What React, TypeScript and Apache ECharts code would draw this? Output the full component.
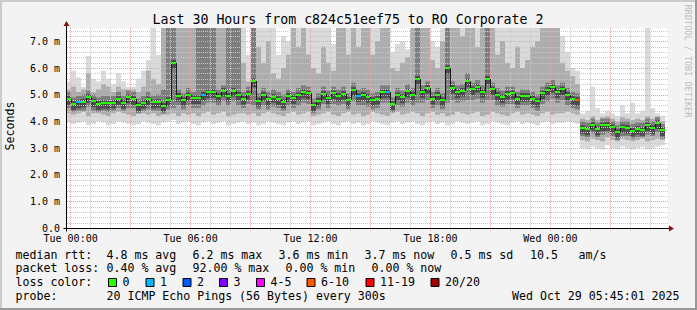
import React, { useEffect, useRef } from 'react';
import * as echarts from 'echarts';

const MONO = '"DejaVu Sans Mono", "Liberation Mono", monospace';

// 15-minute steps, hours relative to Tue 00:00
const STEP_START = -0.25;
const STEP_HOURS = 0.25;
const SEGMENT_STARTS = [0, 103];
// half-height of the darkest smoke core around the median (ms)
const CORE_BELOW = 0.22;
const CORE_ABOVE = 0.1;

const median = [
  4.84, 4.65, 4.71, 4.74, 4.92, 4.75, 4.65, 4.70, 4.68, 4.70,
  4.84, 4.70, 4.90, 4.84, 4.60, 4.70, 4.83, 4.71, 4.73, 4.58,
  4.80, 6.20, 4.96, 4.80, 4.98, 4.87, 4.87, 5.00, 5.09, 5.10,
  4.96, 5.15, 4.96, 5.15, 5.00, 4.85, 5.03, 5.50, 4.78, 5.00,
  4.82, 4.92, 4.84, 4.72, 4.96, 4.87, 4.98, 5.09, 5.05, 4.60,
  4.78, 5.03, 4.87, 5.05, 4.96, 5.03, 4.80, 5.18, 4.95, 5.00,
  4.92, 4.80, 4.85, 5.09, 5.10, 4.65, 4.98, 4.90, 5.12, 5.00,
  5.60, 5.10, 5.26, 4.85, 5.00, 4.80, 6.00, 5.26, 5.09, 5.15,
  5.50, 5.21, 5.30, 5.10, 5.60, 5.20, 5.00, 4.90, 5.03, 5.05,
  4.85, 4.96, 4.96, 4.85, 4.76, 5.05, 5.18, 5.30, 5.10, 5.20,
  5.00, 4.85, 4.80, 3.75, 3.70, 3.87, 3.70, 3.85, 3.87, 3.78,
  3.60, 3.78, 3.76, 3.65, 3.72, 3.68, 3.85, 3.75, 3.93, 3.67,
];

const smokeMin = [
  3.95, 3.90, 3.95, 4.00, 3.85, 3.90, 4.00, 3.95, 3.85, 3.90,
  4.00, 3.95, 3.90, 3.85, 3.90, 4.00, 3.95, 3.90, 3.85, 3.95,
  4.00, 4.05, 3.90, 3.95, 4.00, 3.90, 3.85, 3.95, 4.00, 3.90,
  3.95, 4.00, 3.85, 3.90, 3.95, 4.00, 3.90, 3.95, 3.85, 3.90,
  4.00, 3.95, 3.90, 3.85, 3.95, 4.00, 3.90, 3.95, 4.00, 3.85,
  3.90, 3.95, 4.00, 3.90, 3.85, 3.95, 4.00, 3.90, 3.95, 3.85,
  3.90, 4.00, 3.95, 3.90, 3.85, 3.95, 4.00, 3.90, 3.95, 4.00,
  3.90, 3.85, 3.95, 4.00, 3.90, 3.95, 3.85, 3.90, 4.00, 3.95,
  3.90, 3.95, 4.00, 3.85, 3.90, 4.00, 3.95, 3.90, 3.85, 3.95,
  4.00, 3.90, 3.95, 3.90, 3.85, 3.95, 4.00, 3.90, 3.95, 3.95,
  4.00, 3.95, 3.90, 3.00, 2.95, 3.05, 3.00, 2.95, 3.10, 3.00,
  2.95, 3.05, 3.00, 2.95, 3.00, 3.05, 2.95, 3.00, 3.05, 3.10,
];

const smokeQ1 = [
  4.30, 4.25, 4.30, 4.35, 4.20, 4.30, 4.30, 4.25, 4.20, 4.30,
  4.35, 4.30, 4.25, 4.20, 4.30, 4.30, 4.25, 4.30, 4.20, 4.25,
  4.25, 4.30, 4.20, 4.30, 4.25, 4.30, 4.20, 4.30, 4.35, 4.25,
  4.30, 4.35, 4.20, 4.25, 4.30, 4.30, 4.25, 4.30, 4.20, 4.30,
  4.35, 4.30, 4.25, 4.20, 4.30, 4.35, 4.25, 4.30, 4.35, 4.20,
  4.25, 4.30, 4.35, 4.25, 4.20, 4.30, 4.35, 4.25, 4.30, 4.20,
  4.25, 4.35, 4.30, 4.25, 4.20, 4.30, 4.35, 4.25, 4.30, 4.35,
  4.30, 4.20, 4.30, 4.35, 4.25, 4.30, 4.20, 4.25, 4.35, 4.30,
  4.25, 4.30, 4.35, 4.20, 4.25, 4.35, 4.30, 4.25, 4.20, 4.30,
  4.35, 4.25, 4.30, 4.25, 4.20, 4.30, 4.35, 4.25, 4.30, 4.30,
  4.35, 4.30, 4.25, 3.30, 3.25, 3.35, 3.30, 3.25, 3.40, 3.30,
  3.25, 3.35, 3.30, 3.25, 3.30, 3.35, 3.25, 3.30, 3.35, 3.30,
];

const darkLow = [
  4.50, 4.35, 4.40, 4.40, 4.55, 4.40, 4.35, 4.40, 4.35, 4.40,
  4.50, 4.40, 4.50, 4.50, 4.30, 4.40, 4.45, 4.40, 4.40, 4.30,
  4.45, 4.50, 4.60, 4.45, 4.60, 4.50, 4.50, 4.60, 4.70, 4.70,
  4.60, 4.75, 4.60, 4.75, 4.60, 4.50, 4.65, 4.60, 4.45, 4.60,
  4.45, 4.55, 4.50, 4.40, 4.60, 4.50, 4.60, 4.70, 4.65, 4.30,
  4.45, 4.65, 4.50, 4.65, 4.60, 4.65, 4.45, 4.75, 4.60, 4.60,
  4.55, 4.45, 4.50, 4.70, 4.70, 4.35, 4.60, 4.55, 4.70, 4.60,
  4.70, 4.70, 4.80, 4.50, 4.60, 4.45, 4.70, 4.80, 4.70, 4.75,
  4.80, 4.80, 4.85, 4.70, 4.80, 4.80, 4.60, 4.55, 4.65, 4.65,
  4.50, 4.60, 4.60, 4.50, 4.40, 4.65, 4.75, 4.85, 4.70, 4.80,
  4.60, 4.50, 4.45, 3.45, 3.40, 3.55, 3.40, 3.50, 3.55, 3.45,
  3.30, 3.45, 3.45, 3.35, 3.40, 3.40, 3.50, 3.45, 3.60, 3.35,
];

const darkHigh = [
  5.10, 4.90, 4.95, 5.00, 5.15, 5.00, 4.90, 4.95, 4.95, 4.95,
  5.10, 4.95, 5.15, 5.10, 4.85, 4.95, 5.10, 4.95, 5.00, 5.20,
  7.80, 7.80, 5.20, 5.05, 5.25, 5.10, 7.80, 7.80, 7.80, 7.80,
  5.20, 5.35, 7.80, 7.80, 7.80, 5.10, 5.30, 7.80, 5.05, 5.25,
  5.10, 5.20, 5.10, 5.00, 5.20, 5.10, 5.25, 5.35, 5.30, 4.85,
  5.05, 5.30, 5.15, 5.30, 5.20, 5.30, 5.05, 5.45, 5.20, 5.25,
  5.20, 5.05, 5.10, 5.35, 5.35, 4.90, 5.25, 5.15, 5.40, 5.25,
  7.80, 5.35, 5.50, 5.10, 5.25, 5.05, 7.80, 5.50, 5.35, 5.40,
  5.80, 5.45, 5.55, 5.35, 7.80, 5.45, 5.25, 5.15, 5.30, 5.30,
  5.10, 5.20, 5.20, 5.10, 5.00, 5.30, 5.45, 5.55, 5.35, 5.45,
  5.25, 5.10, 5.05, 4.00, 3.95, 4.10, 3.95, 4.10, 4.10, 4.00,
  3.85, 4.00, 4.00, 3.90, 3.95, 3.95, 4.10, 4.00, 4.15, 3.90,
];

const smokeQ3 = [
  5.20, 5.30, 5.10, 5.20, 5.80, 5.10, 5.20, 5.40, 5.30, 5.10,
  5.30, 5.20, 5.20, 5.20, 5.10, 5.30, 5.90, 5.60, 5.40, 7.80,
  7.80, 7.80, 7.80, 7.80, 7.80, 7.80, 7.80, 7.80, 7.80, 7.80,
  7.80, 7.80, 7.80, 7.80, 7.80, 6.20, 5.50, 7.80, 6.80, 6.20,
  7.00, 5.80, 5.60, 6.00, 6.50, 7.80, 6.80, 7.80, 6.50, 6.00,
  5.80, 6.80, 6.20, 5.90, 7.80, 7.80, 6.50, 7.80, 6.80, 7.80,
  7.80, 6.50, 7.00, 7.80, 7.80, 6.00, 5.90, 6.20, 6.40, 7.80,
  7.80, 7.80, 7.80, 6.30, 6.00, 7.00, 7.80, 7.80, 7.80, 7.20,
  7.80, 7.80, 6.80, 7.80, 7.80, 7.80, 6.50, 7.00, 6.20, 6.00,
  6.80, 6.00, 6.30, 6.80, 7.00, 7.80, 7.80, 7.80, 7.50, 6.20,
  5.90, 5.70, 5.40, 4.10, 4.05, 4.20, 4.05, 4.15, 4.20, 4.10,
  4.00, 4.15, 4.10, 4.05, 4.10, 4.05, 4.20, 4.10, 4.20, 4.00,
];

const smokeMax = [
  5.50, 5.90, 5.65, 5.30, 6.45, 5.60, 5.50, 5.90, 5.60, 5.40,
  5.80, 5.50, 5.30, 5.30, 5.60, 5.90, 6.30, 7.80, 6.50, 7.80,
  7.80, 7.80, 7.80, 7.80, 7.80, 7.80, 7.80, 7.80, 7.80, 7.80,
  7.80, 7.80, 7.80, 7.80, 7.80, 7.80, 6.50, 7.80, 7.80, 7.80,
  7.80, 7.80, 6.50, 7.20, 7.00, 7.80, 7.80, 7.80, 7.80, 7.80,
  7.80, 7.50, 7.80, 6.90, 7.80, 7.80, 7.80, 7.80, 7.80, 7.80,
  7.80, 7.80, 7.80, 7.80, 7.80, 6.60, 6.90, 7.00, 6.70, 7.80,
  7.80, 7.80, 7.80, 7.00, 6.80, 7.80, 7.80, 7.80, 7.80, 7.80,
  7.80, 7.80, 7.80, 7.80, 7.80, 7.80, 7.80, 7.80, 7.80, 7.80,
  7.80, 7.80, 7.80, 7.80, 7.80, 7.80, 7.80, 7.80, 7.80, 7.20,
  6.60, 6.00, 5.90, 4.30, 4.40, 5.30, 4.50, 4.30, 4.40, 4.30,
  4.20, 4.60, 4.30, 4.70, 4.30, 4.40, 7.80, 4.50, 4.30, 4.20,
];

const lossCount = [
  0, 0, 1, 0, 0, 0, 0, 0, 0, 0,
  0, 0, 0, 0, 0, 0, 0, 0, 0, 0,
  0, 0, 0, 0, 0, 0, 0, 1, 0, 0,
  0, 0, 0, 0, 0, 0, 0, 0, 0, 0,
  0, 0, 0, 0, 0, 0, 0, 0, 0, 0,
  0, 0, 0, 0, 0, 0, 0, 0, 1, 0,
  0, 0, 0, 0, 1, 0, 0, 0, 0, 0,
  0, 0, 0, 0, 0, 0, 0, 0, 0, 0,
  0, 0, 0, 0, 0, 0, 0, 0, 0, 0,
  0, 0, 0, 0, 0, 0, 0, 0, 0, 0,
  0, 0, 7, 0, 0, 0, 0, 0, 0, 0,
  0, 0, 0, 0, 0, 0, 0, 0, 0, 0,
];

const X_MIN = -0.18;
const X_MAX = 29.88;
const Y_MAX = 7.5;
const xTickHours = [0, 6, 12, 18, 24];
const xTickLabels = ['Tue 00:00', 'Tue 06:00', 'Tue 12:00', 'Tue 18:00', 'Wed 00:00'];
const hourGrid = [1, 2, 4, 5, 7, 8, 10, 11, 13, 14, 16, 17, 19, 20, 22, 23, 25, 26, 28, 29];
const hourMajorGrid = [0, 3, 6, 9, 12, 15, 18, 21, 24, 27];
const yMajorGrid = [1, 2, 3, 4, 5, 6, 7];
const yMinorGrid = [
  0.2, 0.4, 0.6, 0.8, 1.2, 1.4, 1.6, 1.8, 2.2, 2.4, 2.6, 2.8, 3.2, 3.4, 3.6, 3.8,
  4.2, 4.4, 4.6, 4.8, 5.2, 5.4, 5.6, 5.8, 6.2, 6.4, 6.6, 6.8, 7.2, 7.4,
];

const rttRow = ['median rtt:', '4.8 ms avg', '6.2 ms max', '3.6 ms min', '3.7 ms now', '0.5 ms sd', '10.5', 'am/s'];
const rttX = [16, 107, 193, 279, 365, 451, 530.5, 579];
const lossRow = ['packet loss:', '0.40 % avg', '92.00 % max', '0.00 % min', '0.00 % now'];
const lossX = [16, 107, 193, 286, 372];
const lossLegendLabels = ['0', '1', '2', '3', '4-5', '6-10', '11-19', '20/20'];
const lossLegendColors = ['#26ff00', '#00b8ff', '#0059ff', '#7e00ff', '#ff00ff', '#ff5500', '#ff0000', '#a10000'];
const lossLegendX = [108, 145.5, 182.5, 219, 256, 306.5, 365.5, 430.5];
const probeRow = ['probe:', '20 ICMP Echo Pings (56 Bytes) every 300s', 'Wed Oct 29 05:45:01 2025'];
const probeX = [16, 107, 512.5];

function lossColor(n: number): string {
  if (n <= 0) return lossLegendColors[0];
  if (n === 1) return lossLegendColors[1];
  if (n === 2) return lossLegendColors[2];
  if (n === 3) return lossLegendColors[3];
  if (n <= 5) return lossLegendColors[4];
  if (n <= 10) return lossLegendColors[5];
  if (n <= 19) return lossLegendColors[6];
  return lossLegendColors[7];
}

export default function App() {
  const ref = useRef<HTMLDivElement>(null);

  useEffect(() => {
    document.body.style.margin = '0';
    if (!ref.current) return;
    const chart = echarts.init(ref.current, undefined, { renderer: 'svg' });

    const smokeData = median.map((m, i) => [
      STEP_START + i * STEP_HOURS,
      smokeMin[i], smokeQ1[i], darkLow[i], darkHigh[i], smokeQ3[i], smokeMax[i], m,
    ]);
    const medianData = median.map((m, i) => [
      STEP_START + i * STEP_HOURS,
      m,
      SEGMENT_STARTS.includes(i) ? -1 : median[i - 1],
      lossCount[i],
    ]);

    const font = (s: number) => `${s}px ${MONO}`;
    const txt = (text: string, x: number, y: number, size = 11.6, extra: any = {}) => ({
      type: 'text',
      x, y,
      silent: true,
      rotation: extra.rotation || 0,
      style: {
        text, x: 0, y: 0, font: font(size), fill: extra.fill || '#000',
        textAlign: extra.align || 'left', textVerticalAlign: 'middle',
      },
    });

    const graphics: any[] = [
      { type: 'rect', shape: { x: 0, y: 0, width: 697, height: 2 }, style: { fill: '#cbcbcb' }, silent: true },
      { type: 'rect', shape: { x: 0, y: 0, width: 2, height: 310 }, style: { fill: '#cbcbcb' }, silent: true },
      { type: 'rect', shape: { x: 0, y: 308, width: 697, height: 2 }, style: { fill: '#999999' }, silent: true },
      { type: 'rect', shape: { x: 695, y: 0, width: 2, height: 310 }, style: { fill: '#999999' }, silent: true },
      txt('Last 30 Hours from c824c51eef75 to RO Corporate 2', 348, 19.5, 13.25, { align: 'center' }),
      txt('Seconds', 10, 126, 11.6, { align: 'center', rotation: Math.PI / 2 }),
      txt('RRDTOOL / TOBI OETIKER', 688, 61, 8.5, { align: 'center', rotation: -Math.PI / 2, fill: '#bdbdbd' }),
    ];
    rttRow.forEach((t, i) => graphics.push(txt(t, rttX[i] - 0.5, 254.5)));
    lossRow.forEach((t, i) => graphics.push(txt(t, lossX[i] - 0.5, 268)));
    graphics.push(txt('loss color:', 15.5, 282));
    lossLegendLabels.forEach((t, i) => {
      graphics.push({
        type: 'rect',
        shape: { x: lossLegendX[i] + 0.5, y: 278.5, width: 8, height: 8 },
        style: { fill: lossLegendColors[i], stroke: '#000', lineWidth: 1 },
        silent: true,
      });
      graphics.push(txt(t, lossLegendX[i] + 14.5, 282));
    });
    probeRow.forEach((t, i) => graphics.push(txt(t, probeX[i] - 0.5, 296)));

    const option: any = {
      animation: false,
      backgroundColor: '#f3f3f3',
      grid: {
        left: 67, top: 28, width: 601, height: 200,
        show: true, backgroundColor: '#ffffff', borderWidth: 0,
      },
      xAxis: {
        type: 'value',
        min: X_MIN,
        max: X_MAX,
        axisLine: { show: false },
        axisTick: { show: false },
        splitLine: { show: false },
        axisLabel: {
          customValues: xTickHours,
          formatter: (v: number) => {
            const k = xTickHours.indexOf(Math.round(v));
            return k >= 0 ? xTickLabels[k] : '';
          },
          fontFamily: MONO,
          fontSize: 10,
          color: '#000',
          margin: 5,
        },
      },
      yAxis: {
        type: 'value',
        min: 0,
        max: Y_MAX,
        interval: 1,
        axisLine: { show: false },
        axisTick: { show: false },
        splitLine: { show: false },
        axisLabel: {
          showMaxLabel: false,
          formatter: (v: number) => (v === 0 ? '0.0' : v > 7.2 ? '' : `${v.toFixed(1)} m`),
          fontFamily: MONO,
          fontSize: 10,
          color: '#000',
          margin: 7,
        },
      },
      series: [
        {
          type: 'custom',
          name: 'smoke',
          z: 2,
          clip: true,
          silent: true,
          data: smokeData,
          renderItem: (params: any, api: any) => {
            const t = api.value(0);
            const xa = Math.round(api.coord([t, 0])[0]);
            const xb = Math.round(api.coord([t + STEP_HOURS, 0])[0]);
            const band = (lo: number, hi: number, fill: string) => {
              const y1 = api.coord([t, hi])[1];
              const y2 = api.coord([t, lo])[1];
              return { type: 'rect', shape: { x: xa, y: y1, width: xb - xa, height: y2 - y1 }, style: { fill } };
            };
            const m = api.value(7);
            return {
              type: 'group',
              children: [
                band(api.value(1), api.value(6), '#dadada'),
                band(api.value(2), api.value(5), '#adadad'),
                band(api.value(3), api.value(4), '#7e7e7e'),
                band(m - CORE_BELOW, m + CORE_ABOVE, '#4c4c4c'),
              ],
            };
          },
        },
        {
          type: 'custom',
          name: 'median rtt',
          z: 4,
          clip: true,
          silent: true,
          data: medianData,
          renderItem: (params: any, api: any) => {
            const t = api.value(0);
            const xa = Math.round(api.coord([t, 0])[0]);
            const xb = Math.round(api.coord([t + STEP_HOURS, 0])[0]);
            const y = Math.round(api.coord([t, api.value(1)])[1]);
            const prev = api.value(2);
            const children: any[] = [];
            if (prev >= 0) {
              const yp = Math.round(api.coord([t, prev])[1]);
              children.push({
                type: 'line',
                shape: { x1: xa + 0.5, y1: yp, x2: xa + 0.5, y2: y },
                style: { stroke: '#1a1a1a', lineWidth: 1 },
              });
            }
            children.push({
              type: 'rect',
              shape: { x: xa, y: y - 1, width: xb - xa, height: 2 },
              style: { fill: lossColor(api.value(3)) },
            });
            return { type: 'group', children };
          },
        },
      ],
      graphic: graphics,
    };

    chart.setOption(option);

    // grid lines and axes placed through the chart's own scales
    const px = (x: number, y: number) => chart.convertToPixel({ gridIndex: 0 }, [x, y]) as number[];
    const top = px(X_MIN, Y_MAX)[1];
    const bottom = px(X_MIN, 0)[1];
    const left = px(X_MIN, 0)[0];
    const right = px(X_MAX, 0)[0];
    const gridEls: any[] = [];
    const vl = (h: number, stroke: string) => {
      const x = Math.floor(px(h, 0)[0]) + 0.5;
      gridEls.push({
        type: 'line', z: 3, silent: true,
        shape: { x1: x, y1: top, x2: x, y2: bottom + 3 },
        style: { stroke, lineWidth: 1, lineDash: [1, 1] },
      });
    };
    const hl = (v: number, stroke: string) => {
      const y = Math.round(px(0, v)[1]) + 0.5;
      gridEls.push({
        type: 'line', z: 3, silent: true,
        shape: { x1: left, y1: y, x2: right, y2: y },
        style: { stroke, lineWidth: 1, lineDash: [1, 1] },
      });
    };
    hourGrid.forEach((h) => vl(h, '#c9c9c9'));
    yMinorGrid.forEach((v) => hl(v, '#c9c9c9'));
    hourMajorGrid.forEach((h) => vl(h, '#f39a9a'));
    yMajorGrid.forEach((v) => hl(v, '#f39a9a'));
    const axisX = Math.round(left) - 0.5;
    const axisY = Math.round(bottom) + 0.5;
    gridEls.push(
      { type: 'line', z: 5, silent: true, shape: { x1: axisX, y1: top - 3, x2: axisX, y2: axisY + 3 }, style: { stroke: '#000', lineWidth: 1 } },
      { type: 'line', z: 5, silent: true, shape: { x1: axisX - 3, y1: axisY, x2: right + 1, y2: axisY }, style: { stroke: '#000', lineWidth: 1 } },
      { type: 'polygon', z: 5, silent: true, shape: { points: [[axisX - 3, top - 2], [axisX + 3, top - 2], [axisX, top - 7]] }, style: { fill: '#8b1010' } },
      { type: 'polygon', z: 5, silent: true, shape: { points: [[right + 1, axisY - 3], [right + 1, axisY + 3], [right + 6, axisY]] }, style: { fill: '#8b1010' } },
    );
    chart.setOption({ graphic: [...graphics, ...gridEls] });

    return () => chart.dispose();
  }, []);

  return (
    <div
      ref={ref}
      style={{ position: 'absolute', left: 0, top: 0, width: 697, height: 310 }}
    />
  );
}
